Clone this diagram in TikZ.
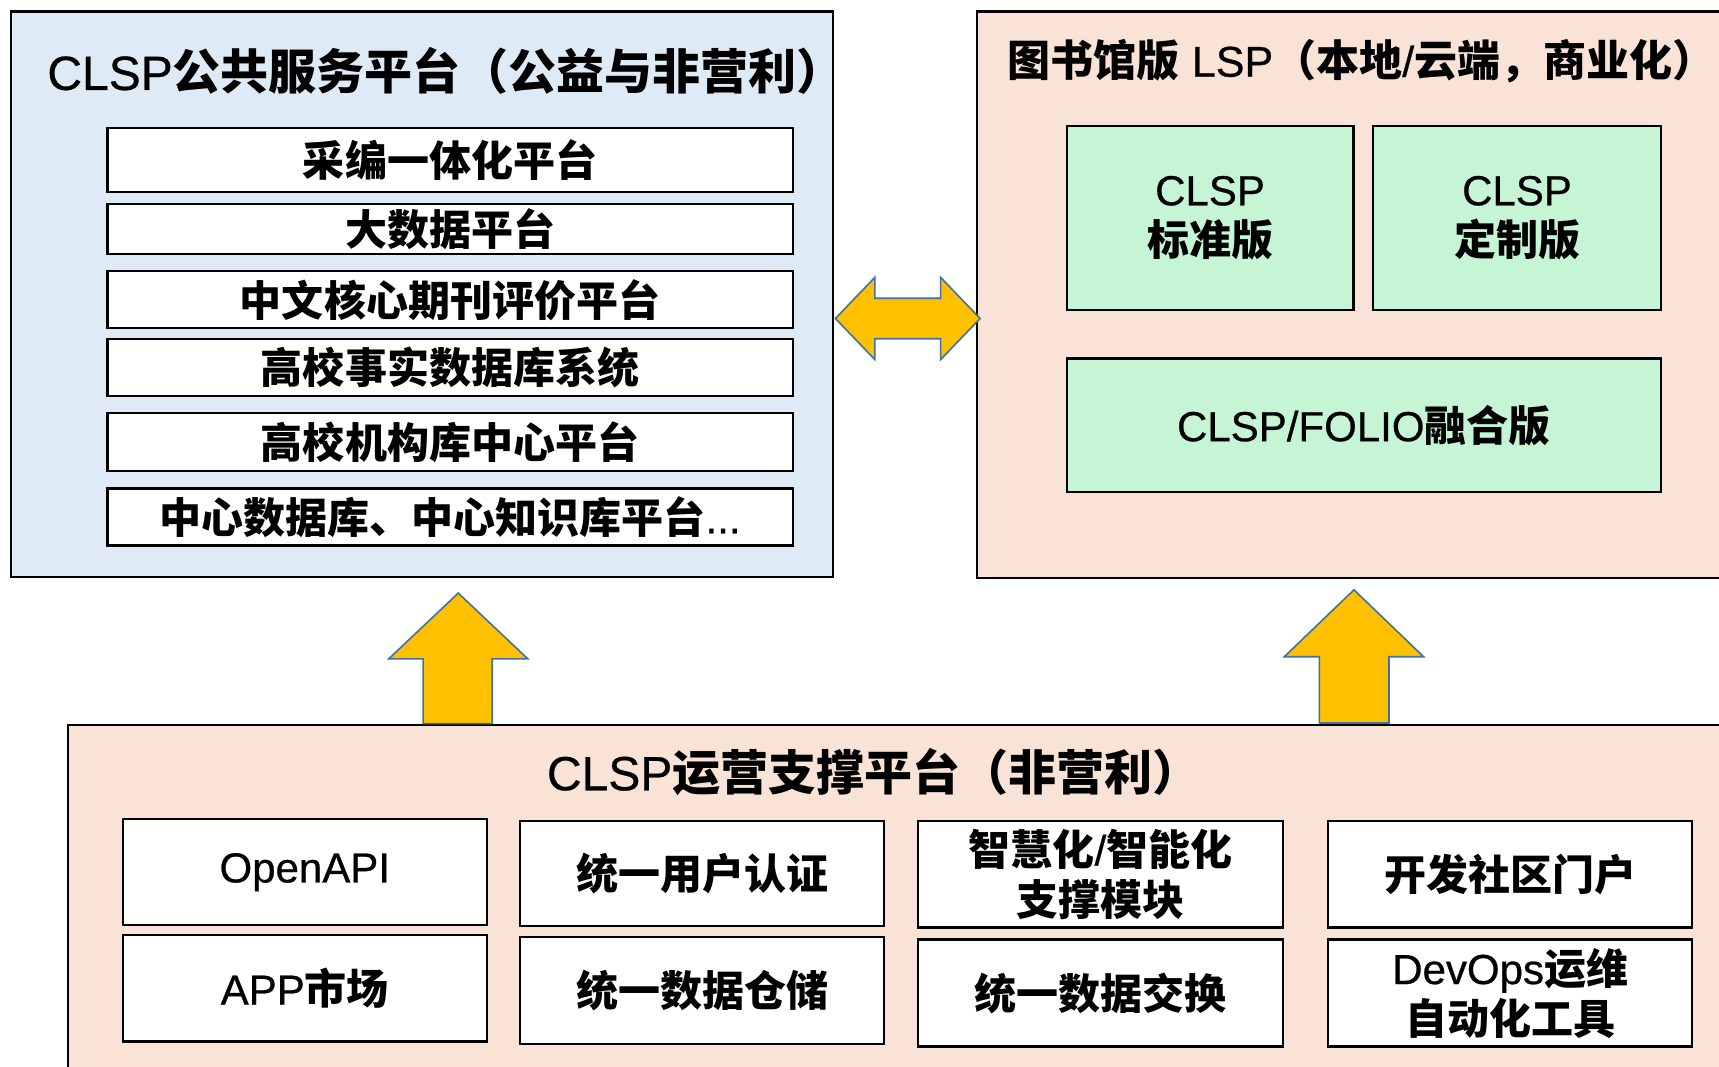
\documentclass[tikz,border=0pt]{standalone}
\usepackage{fontspec}
\setmainfont{Liberation Sans}[UprightFeatures={FakeBold=0.6}]
\newfontfamily\cjk{Noto Sans CJK SC}
\newcommand\zh[1]{{\cjk\bfseries #1}}
\newcommand\bx[7]{\node[#1, minimum width={(#5-#3)*0.548pt}, minimum height={(#6-#4)*0.548pt}] (#2) at ({(#3+#5)/2},{(#4+#6)/2}) {#7};}
\definecolor{pubblue}{HTML}{DEEAF6}
\definecolor{peach}{HTML}{F9E3D6}
\definecolor{mint}{HTML}{C6F5D6}
\definecolor{arrowfill}{HTML}{FFC000}
\definecolor{arrowline}{HTML}{41719C}
\begin{document}
\begin{tikzpicture}[x=0.548pt,y=-0.548pt,
  outerbox/.style={draw=black, line width=1.1pt, inner sep=0pt},
  itembox/.style={draw=black, line width=1.1pt, fill=white, inner sep=0pt,
    align=center, font=\fontsize{21pt}{25pt}\selectfont},
  greenbox/.style={itembox, fill=mint},
  titletext/.style={inner sep=0pt, font=\fontsize{24pt}{28pt}\selectfont},
  blockarrow/.style={fill=arrowfill, draw=arrowline, line width=0.8pt, line join=miter}]
\useasboundingbox (0,0) rectangle (1568,973);
\clip (0,0) rectangle (1568,973);
\fill[white] (0,0) rectangle (1568,973);

% public service platform
\bx{outerbox, fill=pubblue}{pub}{10}{10.5}{759.5}{526.5}{}
\node[titletext] (pubtitle) at (407,65) {CLSP\zh{公共服务平台（公益与非营利）}};
\bx{itembox}{p1}{98}{117}{723}{175}{\zh{采编一体化平台}}
\bx{itembox}{p2}{98}{186}{723}{232}{\zh{大数据平台}}
\bx{itembox}{p3}{98}{247.5}{723}{299.5}{\zh{中文核心期刊评价平台}}
\bx{itembox}{p4}{98}{309.5}{723}{361.5}{\zh{高校事实数据库系统}}
\bx{itembox}{p5}{98}{377}{723}{429.5}{\zh{高校机构库中心平台}}
\bx{itembox}{p6}{98}{445.5}{723}{497.5}{\zh{中心数据库、中心知识库平台}...}

% library LSP
\bx{outerbox, fill=peach}{lsp}{891}{10.5}{1600}{527}{}
\node[titletext, font=\fontsize{21.5pt}{25pt}\selectfont] (lsptitle) at (1242,56) {\zh{图书馆版} LSP\zh{（本地}/\zh{云端，商业化）}};
\bx{greenbox}{std}{973}{115}{1234.5}{282.5}{CLSP\\\zh{标准版}}
\bx{greenbox}{cus}{1252.5}{115}{1515}{282.5}{CLSP\\\zh{定制版}}
\bx{greenbox}{folio}{973}{327}{1515}{449}{CLSP/FOLIO\zh{融合版}}

% operation support platform
\bx{outerbox, fill=peach}{ops}{62}{661}{1600}{1000}{}
\node[titletext] (opstitle) at (797,704) {CLSP\zh{运营支撑平台（非营利）}};
\bx{itembox}{o1}{112}{747}{444}{844}{OpenAPI}
\bx{itembox}{o2}{112}{853}{444}{950}{APP\zh{市场}}
\bx{itembox}{o3}{474.5}{749}{806.5}{845}{\zh{统一用户认证}}
\bx{itembox}{o4}{474.5}{855}{806.5}{952}{\zh{统一数据仓储}}
\bx{itembox}{o5}{837.5}{749}{1170}{846}{\zh{智慧化}/\zh{智能化}\\\zh{支撑模块}}
\bx{itembox}{o6}{837.5}{857}{1170}{954.5}{\zh{统一数据交换}}
\bx{itembox}{o7}{1211.5}{749}{1543.5}{846}{\zh{开发社区门户}}
\bx{itembox}{o8}{1211.5}{857}{1543.5}{954.5}{DevOps\zh{运维}\\\zh{自动化工具}}

% double arrow between pub and lsp
\draw[blockarrow] (762,290.5) -- (798,253) -- (798,272) -- (858,272) -- (858,253)
  -- (894,290.5) -- (858,328) -- (858,309) -- (798,309) -- (798,328) -- cycle;
% up arrows
\draw[blockarrow] (418,541) -- (481.5,601) -- (449,601) -- (449,660) -- (386,660)
  -- (386,601) -- (354.5,601) -- cycle;
\draw[blockarrow] (1235,538) -- (1298.5,599) -- (1267,599) -- (1267,659.5) -- (1203.5,659.5)
  -- (1203.5,599) -- (1171.5,599) -- cycle;
\end{tikzpicture}
\end{document}
